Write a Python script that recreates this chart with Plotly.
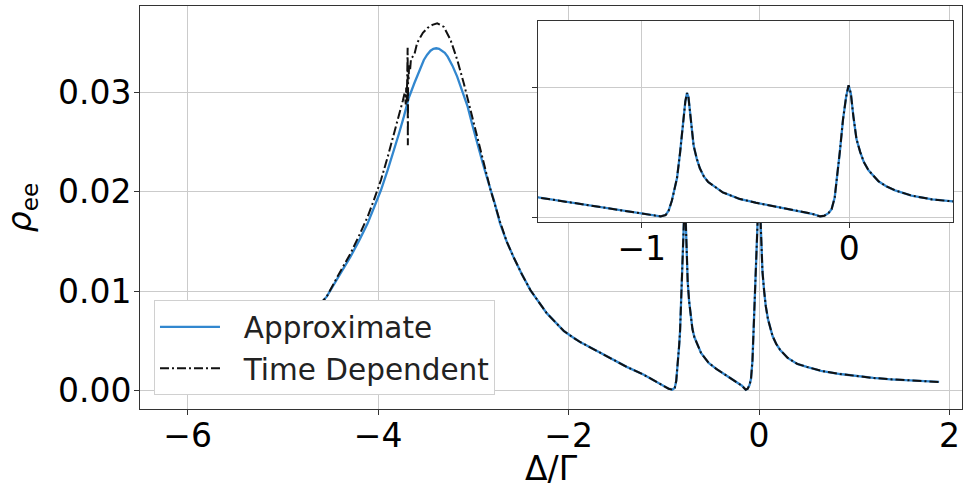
import plotly.graph_objects as go

# ---------------- data ----------------
approx_x = [-4.62, -4.54, -4.42, -4.29, -4.20, -4.11, -4.04, -3.97, -3.90, -3.83,
            -3.78, -3.73, -3.68, -3.62, -3.57, -3.52, -3.485, -3.45, -3.42, -3.39,
            -3.36, -3.33, -3.30, -3.27, -3.22, -3.17, -3.115, -3.06, -3.01, -2.96,
            -2.905, -2.85, -2.78, -2.72, -2.65, -2.58, -2.49, -2.40, -2.31, -2.23,
            -2.14, -2.05, -1.96, -1.88, -1.80, -1.72, -1.64, -1.56, -1.39, -1.21,
            -1.04, -0.95, -0.91, -0.885, -0.87, -0.855, -0.84, -0.83, -0.815, -0.80,
            -0.79, -0.782, -0.775, -0.765, -0.75, -0.735, -0.72, -0.70, -0.68, -0.61,
            -0.53, -0.45, -0.34, -0.25, -0.18, -0.14, -0.12, -0.10, -0.085, -0.07,
            -0.055, -0.045, -0.03, -0.015, -0.003, 0.008, 0.02, 0.035, 0.053, 0.07,
            0.093, 0.12, 0.141, 0.18, 0.221, 0.30, 0.40, 0.50, 0.65, 0.85,
            1.03, 1.20, 1.38, 1.55, 1.72, 1.89]
approx_y = [0.0086, 0.00946, 0.0114, 0.01348, 0.0151, 0.01684, 0.0185, 0.02019, 0.0222, 0.02422,
            0.0259, 0.02757, 0.0294, 0.03093, 0.0322, 0.03327, 0.0338, 0.0342, 0.0344, 0.03445,
            0.0344, 0.0342, 0.0340, 0.0336, 0.0327, 0.0316, 0.0301, 0.02857, 0.0267, 0.0248,
            0.0230, 0.0212, 0.0190, 0.01684, 0.0150, 0.01348, 0.0117, 0.0101, 0.0089, 0.0078,
            0.0069, 0.0060, 0.0054, 0.0049, 0.0045, 0.0041, 0.0037, 0.0033, 0.0024, 0.0016,
            0.0007, 0.0002, 0.0001, 0.0003, 0.0010, 0.0025, 0.0045, 0.0060, 0.0100, 0.0150,
            0.0178, 0.0191, 0.0185, 0.0155, 0.0110, 0.0090, 0.0075, 0.0062, 0.0054, 0.0038,
            0.0028, 0.0022, 0.0015, 0.0009, 0.0005, 0.0001, 0.0002, 0.0006, 0.0012, 0.0030,
            0.0070, 0.0101, 0.0150, 0.0185, 0.0203, 0.0190, 0.0155, 0.0120, 0.0100, 0.0085,
            0.0072, 0.0062, 0.0055, 0.0047, 0.0041, 0.0033, 0.0027, 0.0024, 0.0020, 0.00168,
            0.00145, 0.00128, 0.00115, 0.00105, 0.00096, 0.00088]

td_x = [-4.62, -4.54, -4.42, -4.29, -4.20, -4.11, -4.04, -3.97, -3.90, -3.83,
        -3.78, -3.74, -3.72, -3.71, -3.705, -3.70, -3.695, -3.69, -3.688, -3.685,
        -3.68, -3.675, -3.665, -3.655, -3.62, -3.59, -3.53, -3.48, -3.43, -3.38,
        -3.31, -3.24, -3.17, -3.10, -3.03, -2.96, -2.89, -2.82, -2.72, -2.65,
        -2.58, -2.49, -2.40, -2.31, -2.23,
        -2.14, -2.05, -1.96, -1.88, -1.80, -1.72, -1.64, -1.56, -1.39, -1.21,
        -1.04, -0.95, -0.91, -0.885, -0.87, -0.855, -0.84, -0.83, -0.815, -0.80,
        -0.79, -0.782, -0.775, -0.765, -0.75, -0.735, -0.72, -0.70, -0.68, -0.61,
        -0.53, -0.45, -0.34, -0.25, -0.18, -0.14, -0.12, -0.10, -0.085, -0.07,
        -0.055, -0.045, -0.03, -0.015, -0.003, 0.008, 0.02, 0.035, 0.053, 0.07,
        0.093, 0.12, 0.141, 0.18, 0.221, 0.30, 0.40, 0.50, 0.65, 0.85,
        1.03, 1.20, 1.38, 1.55, 1.72, 1.91]
td_y = [0.0086, 0.00946, 0.0116, 0.0138, 0.0156, 0.0175, 0.0193, 0.0212, 0.0235, 0.0259,
        0.0278, 0.0292, 0.0300, 0.0288, 0.0305, 0.0290, 0.0312, 0.0345, 0.0247, 0.0318,
        0.0312, 0.0328, 0.0322, 0.0334, 0.0338, 0.0350, 0.0360, 0.0365, 0.0368, 0.03696,
        0.0366, 0.0353, 0.0333, 0.0309, 0.0282, 0.0256, 0.0229, 0.0202, 0.0170, 0.0150,
        0.01348, 0.0117, 0.0101, 0.0089, 0.0078,
        0.0069, 0.0060, 0.0054, 0.0049, 0.0045, 0.0041, 0.0037, 0.0033, 0.0024, 0.0016,
        0.0007, 0.0002, 0.0001, 0.0003, 0.0010, 0.0025, 0.0045, 0.0060, 0.0100, 0.0150,
        0.0178, 0.0191, 0.0185, 0.0155, 0.0110, 0.0090, 0.0075, 0.0062, 0.0054, 0.0038,
        0.0028, 0.0022, 0.0015, 0.0009, 0.0005, 0.0001, 0.0002, 0.0006, 0.0012, 0.0030,
        0.0070, 0.0101, 0.0150, 0.0185, 0.0203, 0.0190, 0.0155, 0.0120, 0.0100, 0.0085,
        0.0072, 0.0062, 0.0055, 0.0047, 0.0041, 0.0033, 0.0027, 0.0024, 0.0020, 0.00168,
        0.00145, 0.00128, 0.00115, 0.00105, 0.00096, 0.00086]

assert len(approx_x) == len(approx_y), (len(approx_x), len(approx_y))
assert len(td_x) == len(td_y), (len(td_x), len(td_y))

series_names = ["Approximate", "Time Dependent"]
main_xticks = [-6, -4, -2, 0, 2]
main_yticks = [0.00, 0.01, 0.02, 0.03]
inset_xticks = [-1, 0]
inset_yticks = [0.0, 0.02]

main_xrange = [-6.50, 2.13]
main_yrange = [-0.00184, 0.0387]
inset_xrange = [-1.5, 0.5]
inset_yrange = [-0.00077, 0.0302]

# ---------------- styling ----------------
FONT = "DejaVu Sans"
BLUE = "#3287cf"
BLACK = "#111111"
GRID = "#cbcbcb"
SPINE = "#333333"
DASHDOT = "9px,3px,2px,3px"
NBSP = "\u00a0\u00a0"

fig = go.Figure()

fig.add_trace(go.Scatter(x=approx_x, y=approx_y, mode="lines", name=NBSP + series_names[0],
                         line=dict(color=BLUE, width=2.3), xaxis="x", yaxis="y"))
fig.add_trace(go.Scatter(x=td_x, y=td_y, mode="lines", name=NBSP + series_names[1],
                         line=dict(color=BLACK, width=2, dash=DASHDOT), xaxis="x", yaxis="y"))
fig.add_trace(go.Scatter(x=approx_x, y=approx_y, mode="lines", showlegend=False,
                         line=dict(color=BLUE, width=2.3), xaxis="x2", yaxis="y2"))
fig.add_trace(go.Scatter(x=td_x, y=td_y, mode="lines", showlegend=False,
                         line=dict(color=BLACK, width=2, dash=DASHDOT), xaxis="x2", yaxis="y2"))

# white background of the inset (drawn under inset grid, above main plot)
fig.add_shape(type="rect", xref="x2", yref="y2",
              x0=inset_xrange[0], x1=inset_xrange[1], y0=inset_yrange[0], y1=inset_yrange[1],
              fillcolor="white", line=dict(width=0), layer="below")

axis_common = dict(showgrid=True, gridcolor=GRID, gridwidth=1, zeroline=False,
                   showline=True, linecolor=SPINE, linewidth=1, mirror=True,
                   ticks="outside", ticklen=5, tickcolor=SPINE, tickwidth=1,
                   automargin=False,
                   tickfont=dict(family=FONT, size=33, color="black"))

fig.update_layout(
    width=964, height=496,
    margin=dict(l=140, r=2, t=6, b=87),
    paper_bgcolor="white", plot_bgcolor="white",
    font=dict(family=FONT, color="black"),
    xaxis=dict(domain=[0, 1], range=main_xrange, tickvals=main_xticks, ticklabelstandoff=-8,
               anchor="y", **axis_common),
    yaxis=dict(domain=[0, 1], range=main_yrange, tickvals=main_yticks, tickformat=".2f",
               ticklabelstandoff=-4,
               title=dict(text="<i>ρ</i><sub>ee</sub>", font=dict(family=FONT, size=33), standoff=20),
               anchor="x", **axis_common),
    xaxis2=dict(domain=[0.4842, 0.989], range=inset_xrange, tickvals=inset_xticks,
                ticklabelstandoff=-8, anchor="y2", **axis_common),
    yaxis2=dict(domain=[0.464, 0.963], range=inset_yrange, tickvals=inset_yticks,
                showticklabels=False, anchor="x2", **axis_common),
    legend=dict(x=0.017, y=0.27, xanchor="left", yanchor="top",
                bgcolor="white", bordercolor="#d0d0d0", borderwidth=1,
                font=dict(family=FONT, size=29.5, color="#222222"),
                itemwidth=60, tracegroupgap=0),
    showlegend=True,
    annotations=[dict(text="Δ/Γ", xref="paper", yref="paper", x=0.5, y=-0.095,
                      xanchor="center", yanchor="top", showarrow=False,
                      font=dict(family=FONT, size=33, color="black"))],
)

fig.write_html("out.html", config={"displayModeBar": False},
               post_script="document.body.style.margin='0px';")
